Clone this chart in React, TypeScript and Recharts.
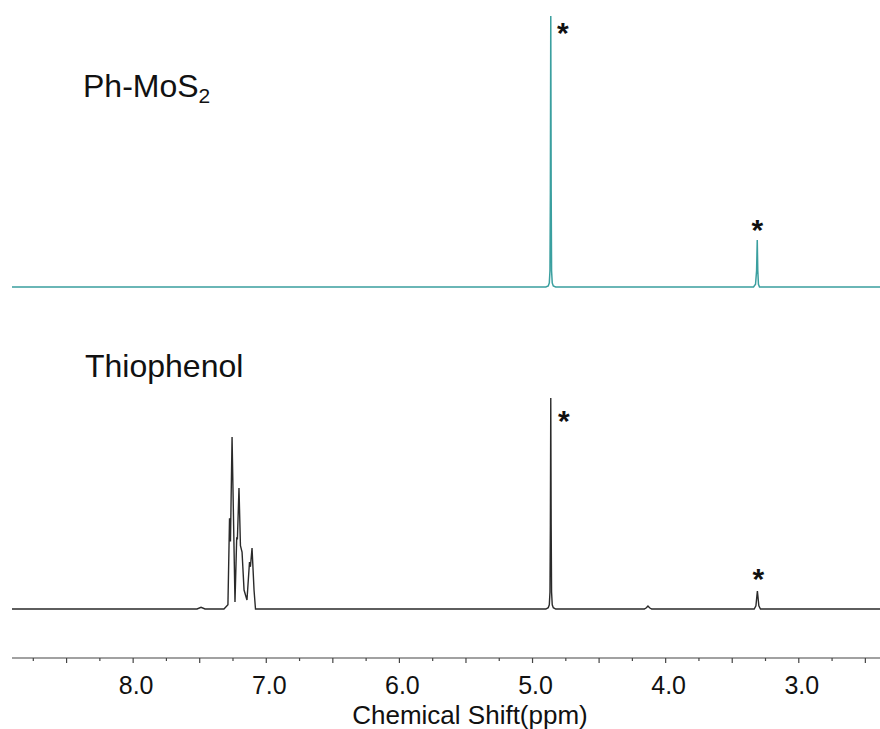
import React from 'react';
import { LineChart, Line, XAxis, YAxis, ReferenceDot, Customized } from 'recharts';

// Ph-MoS2 trace (ppm, normalised intensity)
const phMoS2Ppm = [8.91, 4.9, 4.882, 4.874, 4.869, 4.866, 4.863, 4.86, 4.857, 4.852, 4.844, 4.826, 3.34, 3.325, 3.317, 3.312, 3.308, 3.303, 3.295, 3.28, 2.39];
const phMoS2Int = [0, 0, 0.004, 0.015, 0.06, 0.35, 1.0, 0.35, 0.06, 0.015, 0.004, 0, 0, 0.01, 0.06, 0.173, 0.06, 0.01, 0, 0, 0];

// Thiophenol trace
const thioPpm = [
  8.91, 7.52, 7.49, 7.46, 7.318, 7.288, 7.276, 7.269, 7.257, 7.235, 7.222, 7.217, 7.205, 7.194, 7.182, 7.167,
  7.145, 7.126, 7.119, 7.107, 7.092, 7.081, 7.062, 4.9, 4.882, 4.874, 4.869, 4.866, 4.863, 4.86, 4.857, 4.852,
  4.844, 4.826, 4.16, 4.145, 4.133, 4.121, 4.105, 3.335, 3.322, 3.315, 3.311, 3.307, 3.3, 3.288, 2.39,
];
const thioInt = [
  0, 0, 0.008, 0, 0, 0.02, 0.43, 0.32, 0.815, 0.033, 0.34, 0.33, 0.573, 0.3, 0.27, 0.09,
  0.043, 0.223, 0.2, 0.289, 0.09, 0, 0, 0, 0.006, 0.02, 0.08, 0.4, 1.0, 0.4, 0.08, 0.02,
  0.006, 0, 0, 0.006, 0.014, 0.006, 0, 0, 0.015, 0.06, 0.085, 0.06, 0.015, 0, 0,
];

const xTicks = [2.5, 2.75, 3, 3.25, 3.5, 3.75, 4, 4.25, 4.5, 4.75, 5, 5.25, 5.5, 5.75, 6, 6.25, 6.5, 6.75, 7, 7.25, 7.5, 7.75, 8, 8.25, 8.5, 8.75];

// starred solvent peaks: [series, ppm, intensity, dx, dy]
const stars: [string, number, number, number, number][] = [
  ['top', 4.863, 1.0, 12, 11],
  ['top', 3.312, 0.173, 0, -16],
  ['bottom', 4.863, 1.0, 13, 17],
  ['bottom', 3.311, 0.085, 1, -18],
];

const phMoS2Data = phMoS2Ppm.map((p, i) => ({ ppm: p, v: phMoS2Int[i] }));
const thioData = thioPpm.map((p, i) => ({ ppm: p, v: thioInt[i] }));

const W = 880;
const H = 729;
const AXIS_Y = 658;
const FONT = '"Liberation Sans", Arial, sans-serif';

// hidden y-axis domain so that baseline / full-height land where they should
const domainFor = (basePx: number, fullPx: number): [number, number] => {
  const k = basePx - fullPx;
  const d0 = -(AXIS_Y - basePx) / k;
  return [d0, d0 + AXIS_Y / k];
};

const Tick = (props: any) => {
  const { x, y, payload } = props;
  const v = payload.value as number;
  const major = Math.abs(v * 2 - Math.round(v * 2)) < 1e-6;
  const whole = Math.abs(v - Math.round(v)) < 1e-6;
  return (
    <g>
      <line x1={x} x2={x} y1={y} y2={y + (major ? 5 : 3)} stroke="#444" strokeWidth={1.2} />
      {whole && (
        <text x={x + 3} y={y + 36} textAnchor="middle" fontSize={25} fontFamily={FONT} fill="#111">
          {v.toFixed(1)}
        </text>
      )}
    </g>
  );
};

const Labels = () => (
  <g fontFamily={FONT} fill="#111">
    <text x={83} y={97} fontSize={32}>
      Ph-MoS<tspan fontSize={21} dy={6}>2</tspan>
    </text>
    <text x={85} y={377} fontSize={32}>Thiophenol</text>
    <text x={470} y={724} fontSize={26} textAnchor="middle">Chemical Shift(ppm)</text>
  </g>
);

if (typeof document !== 'undefined') document.body.style.margin = '0';

export default function App() {
  return (
    <LineChart width={W} height={H} margin={{ top: 0, right: 0, left: 12, bottom: H - AXIS_Y - 60 }}>
      <XAxis
        dataKey="ppm"
        type="number"
        domain={[2.39, 8.91]}
        reversed
        allowDataOverflow
        ticks={xTicks}
        interval={0}
        tickSize={0}
        tickMargin={0}
        tickLine={false}
        tick={<Tick />}
        height={60}
        axisLine={{ stroke: '#444', strokeWidth: 1.2 }}
      />
      <YAxis yAxisId="top" hide type="number" domain={domainFor(287, 16)} allowDataOverflow />
      <YAxis yAxisId="bottom" hide type="number" domain={domainFor(609, 398)} allowDataOverflow />
      <Line
        yAxisId="top"
        data={phMoS2Data}
        dataKey="v"
        type="linear"
        stroke="#3a9f9f"
        strokeWidth={1.5}
        dot={false}
        isAnimationActive={false}
      />
      <Line
        yAxisId="bottom"
        data={thioData}
        dataKey="v"
        type="linear"
        stroke="#2a2a2a"
        strokeWidth={1.4}
        dot={false}
        isAnimationActive={false}
      />
      {stars.map(([id, ppm, v, dx, dy], i) => (
        <ReferenceDot
          key={i}
          yAxisId={id}
          x={ppm}
          y={v}
          r={0}
          shape={(p: any) => (
            <text
              x={p.cx + dx}
              y={p.cy + dy + 16}
              textAnchor="middle"
              fontSize={30}
              fontWeight="bold"
              fontFamily={FONT}
              fill="#111"
            >
              *
            </text>
          )}
        />
      ))}
      <Customized component={Labels} />
    </LineChart>
  );
}
